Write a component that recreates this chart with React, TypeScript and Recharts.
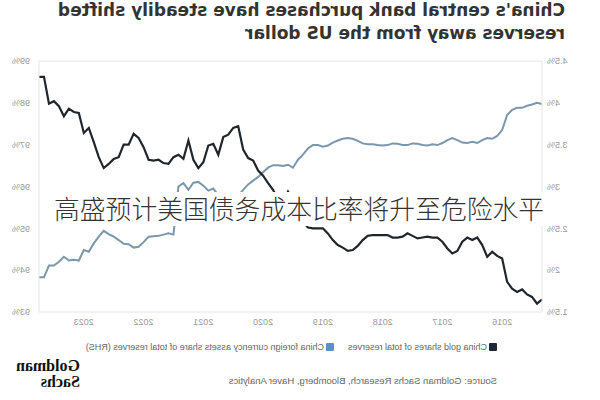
import { LineChart, Line, XAxis, YAxis, CartesianGrid } from 'recharts';

// monthly, May 2015 .. Oct 2023
const months: string[] = [];
for (let i = 0; i < 102; i++) {
  const m = 4 + i;
  const yr = 2015 + Math.floor(m / 12);
  months.push(`${yr}-${String((m % 12) + 1).padStart(2, '0')}`);
}

const yearTicks = ['2016-01', '2017-01', '2018-01', '2019-01', '2020-01', '2021-01', '2022-01', '2023-01'];

// gold share of total reserves, % (left axis)
const goldShare = [
  1.65, 1.6, 1.68, 1.71, 1.77, 1.74, 1.78, 1.86, 2.14, 2.17,
  2.22, 2.16, 2.3, 2.39, 2.36, 2.39, 2.34, 2.23, 2.2, 2.26,
  2.34, 2.39, 2.39, 2.4, 2.39, 2.38, 2.41, 2.44, 2.4, 2.39,
  2.39, 2.42, 2.42, 2.42, 2.42, 2.41, 2.36, 2.29, 2.24, 2.23,
  2.27, 2.3, 2.36, 2.44, 2.5, 2.5, 2.5, 2.51, 2.58, 2.69,
  2.84, 2.94, 2.81, 2.84, 2.96, 3.04, 3.13, 3.19, 3.31, 3.34,
  3.44, 3.72, 3.7, 3.62, 3.59, 3.38, 3.51, 3.49, 3.29, 3.22,
  3.32, 3.55, 3.33, 3.38, 3.35, 3.27, 3.28, 3.32, 3.31, 3.32,
  3.47, 3.58, 3.63, 3.5, 3.5, 3.35, 3.33, 3.27, 3.22, 3.35,
  3.53, 3.7, 3.64, 3.88, 3.89, 3.93, 3.84, 3.96, 4.02, 3.99,
  4.31, 4.31,
];

// foreign currency assets share of total reserves, % (RHS)
const fxShare = [
  97.97, 98.0, 97.96, 97.93, 97.88, 97.88, 97.83, 97.71, 97.35, 97.21,
  97.14, 97.16, 97.11, 97.04, 97.07, 97.04, 97.05, 97.11, 97.16, 97.11,
  97.04, 96.99, 97.01, 96.98, 96.99, 97.02, 97.03, 96.99, 96.99, 97.02,
  97.03, 96.99, 96.98, 96.99, 97.01, 97.01, 97.03, 97.09, 97.14, 97.16,
  97.14, 97.1, 97.05, 96.98, 96.95, 96.99, 96.99, 96.91, 96.76, 96.64,
  96.45, 96.52, 96.49, 96.51, 96.51, 96.45, 96.34, 96.23, 96.14, 96.05,
  95.92, 95.78, 95.73, 95.73, 95.75, 95.79, 95.95, 95.9, 96.02, 96.11,
  96.09, 95.92, 96.08, 96.0, 94.85, 94.88, 94.85, 94.82, 94.81, 94.8,
  94.67, 94.56, 94.54, 94.62, 94.63, 94.72, 94.8, 94.86, 94.94, 94.8,
  94.64, 94.44, 94.48, 94.23, 94.25, 94.23, 94.32, 94.2, 94.11, 94.11,
  93.83, 93.83,
];

const goldTicks = [1.5, 2, 2.5, 3, 3.5, 4, 4.5];
const fxTicks = [93, 94, 95, 96, 97, 98, 99];

const rows = months.map((month, i) => ({ month, gold: goldShare[i], fx: fxShare[i] }));

const sans = '"Liberation Sans", Arial, sans-serif';
const tickStyle = { fill: '#9a9a9a', fontSize: 9, fontFamily: sans };
const GOLD = '#1f262c';
const FX = '#7b97ab';

export default function App() {
  return (
    <div style={{ position: 'fixed', left: 0, top: 0, width: 600, height: 400, background: '#fff', overflow: 'hidden' }}>
      {/* the reference picture is flipped left-right, so the whole figure is mirrored */}
      <div style={{ position: 'absolute', left: 0, top: 0, width: 600, height: 400, transform: 'scaleX(-1)' }}>
        <div
          style={{
            position: 'absolute',
            left: 35,
            top: -1,
            fontFamily: '"DejaVu Sans", sans-serif',
            fontWeight: 700,
            fontSize: 17,
            lineHeight: '23px',
            color: '#333',
            whiteSpace: 'nowrap',
          }}
        >
          China's central bank purchases have steadily shifted
          <br />
          reserves away from the US dollar
        </div>

        <div style={{ position: 'absolute', left: 0, top: 0 }}>
          <LineChart width={600} height={332} data={rows} margin={{ top: 61, right: 0, bottom: 0, left: 8 }}>
            <CartesianGrid vertical={false} stroke="#e6e6e6" />
            <XAxis
              dataKey="month"
              ticks={yearTicks}
              tickFormatter={(v: string) => v.slice(0, 4)}
              tick={tickStyle}
              tickLine={false}
              axisLine={false}
              tickSize={0}
              tickMargin={7}
              height={20}
              interval={0}
            />
            <YAxis
              yAxisId="gold"
              orientation="left"
              domain={[1.5, 4.5]}
              ticks={goldTicks}
              tickFormatter={(v: number) => `${v}%`}
              tick={tickStyle}
              tickLine={false}
              tickSize={0}
              tickMargin={5}
              axisLine={{ stroke: '#e6e6e6' }}
              width={50}
            />
            <YAxis
              yAxisId="fx"
              orientation="right"
              domain={[93, 99]}
              ticks={fxTicks}
              tickFormatter={(v: number) => `${v}%`}
              tick={{ ...tickStyle, textAnchor: 'start' }}
              tickLine={false}
              tickSize={0}
              tickMargin={9}
              axisLine={{ stroke: '#e6e6e6' }}
              width={39}
            />
            <Line
              yAxisId="fx"
              dataKey="fx"
              type="linear"
              stroke={FX}
              strokeWidth={2}
              dot={false}
              isAnimationActive={false}
            />
            <Line
              yAxisId="gold"
              dataKey="gold"
              type="linear"
              stroke={GOLD}
              strokeWidth={2.2}
              dot={false}
              isAnimationActive={false}
            />
          </LineChart>
        </div>

        <div
          style={{
            position: 'absolute',
            left: 103,
            top: 342,
            fontFamily: sans,
            fontSize: 9,
            color: '#666',
            whiteSpace: 'nowrap',
            display: 'flex',
            alignItems: 'center',
          }}
        >
          <span style={{ width: 8, height: 8, background: '#1c2838', borderRadius: 1, marginRight: 2 }} />
          <span>China gold shares of total reserves</span>
          <span style={{ width: 8, height: 8, background: '#5f8fc8', borderRadius: 1, marginLeft: 14, marginRight: 2 }} />
          <span>China foreign currency assets share of total reserves (RHS)</span>
        </div>

        <div
          style={{
            position: 'absolute',
            left: 103,
            top: 375,
            fontFamily: sans,
            fontSize: 9.5,
            color: '#666',
            whiteSpace: 'nowrap',
          }}
        >
          Source: Goldman Sachs Research, Bloomberg, Haver Analytics
        </div>

        <div
          style={{
            position: 'absolute',
            left: 520,
            top: 358,
            fontFamily: '"Liberation Serif", serif',
            fontWeight: 700,
            fontSize: 16,
            lineHeight: '16px',
            color: '#111',
          }}
        >
          Goldman
          <br />
          Sachs
        </div>
      </div>

      {/* caption laid over the picture, not flipped */}
      <div
        style={{
          position: 'absolute',
          left: 50,
          top: 192,
          width: 503,
          height: 34,
          background: '#fff',
          fontFamily: '"Noto Sans CJK SC", sans-serif',
          fontWeight: 300,
          fontSize: 25.8,
          lineHeight: '32px',
          color: '#333',
          paddingLeft: 4,
          boxSizing: 'border-box',
          whiteSpace: 'nowrap',
        }}
      >
        高盛预计美国债务成本比率将升至危险水平
      </div>
    </div>
  );
}
